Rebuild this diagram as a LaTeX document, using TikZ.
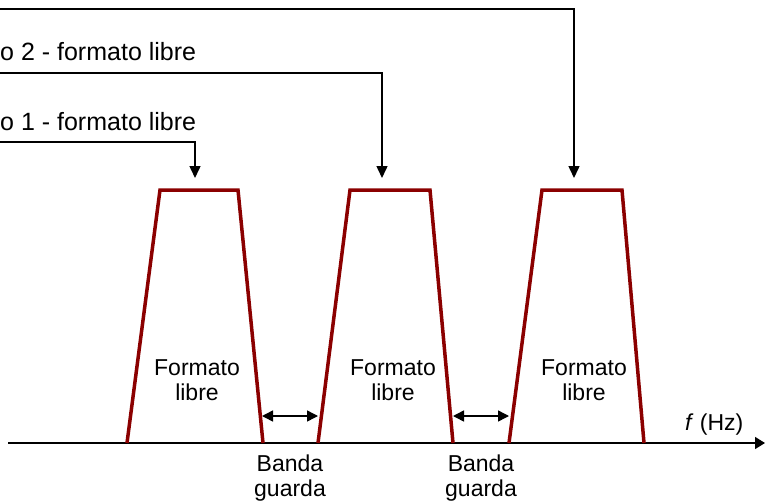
\documentclass[tikz,border=0pt]{standalone}
\usepackage{fontspec}
\setmainfont{Liberation Sans}
\usetikzlibrary{arrows.meta}
\definecolor{bandred}{HTML}{8B0000}
\begin{document}
\begin{tikzpicture}[x=1pt,y=-1pt,
  bandline/.style={draw=bandred,line width=3.5pt,line join=miter},
  feed/.style={draw=black,line width=1.5pt,-{Triangle[length=12pt,width=11pt]}},
  gap/.style={draw=black,line width=1.5pt,{Triangle[length=11pt,width=11pt]}-{Triangle[length=11pt,width=11pt]}},
  lbl/.style={inner sep=0pt,font=\fontsize{25}{28}\selectfont},
  inlbl/.style={inner sep=0pt,align=center,font=\fontsize{23}{25.5}\selectfont}]
\useasboundingbox (0,0) rectangle (765,503);
% axis
\coordinate (ax0) at (8,443);
\coordinate (ax1) at (765,443);
\draw[draw=black,line width=1.5pt,-{Triangle[length=10pt,width=12pt]}] (ax0) -- (ax1);
% trapezoids
\draw[bandline] (127,443) -- (160,190) -- (238,190) -- (263,443);
\draw[bandline] (318,443) -- (350,190) -- (430,190) -- (453,443);
\draw[bandline] (509,443) -- (542,190) -- (622,190) -- (644,443);
% inner labels
\node[inlbl] (f1) at (197,380) {Formato\\libre};
\node[inlbl] (f2) at (393,380) {Formato\\libre};
\node[inlbl] (f3) at (584,380) {Formato\\libre};
% guard bands
\coordinate (g1a) at (262,416);
\coordinate (g1b) at (318,416);
\coordinate (g2a) at (453,416);
\coordinate (g2b) at (509,416);
\draw[gap] (g1a) -- (g1b);
\draw[gap] (g2a) -- (g2b);
\node[inlbl] (b1) at (290,478) {Banda\\guarda};
\node[inlbl] (b2) at (481,478) {Banda\\guarda};
\node[inlbl,anchor=base west] (fhz) at (685,430) {\textit{f} (Hz)};
% feed labels
\node[lbl,anchor=base west] (l2) at (0,60) {o 2 - formato libre};
\node[lbl,anchor=base west] (l1) at (0,130) {o 1 - formato libre};
\coordinate (s3) at (0,9);
\coordinate (s2) at (0,73);
\coordinate (s1) at (0,142);
\draw[feed] (s3) -- (574,9) -- (574,178);
\draw[feed] (s2) -- (382,73) -- (382,178);
\draw[feed] (s1) -- (195,142) -- (195,178);
\end{tikzpicture}
\end{document}
